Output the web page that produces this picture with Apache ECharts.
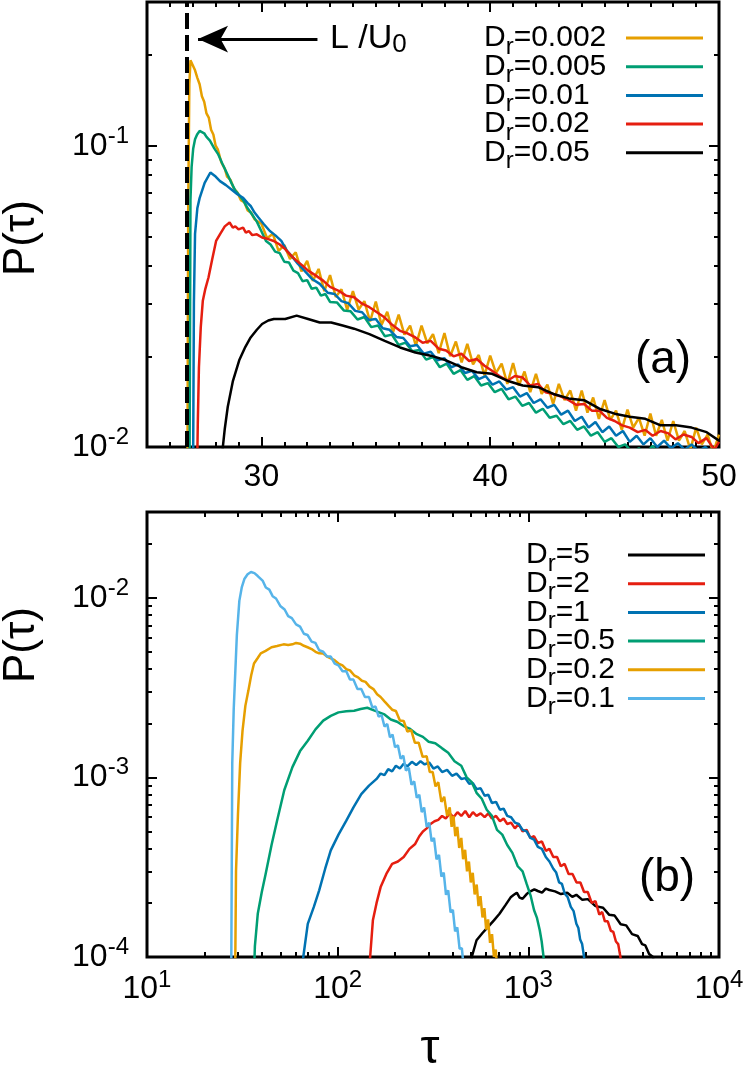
<!DOCTYPE html>
<html>
<head>
<meta charset="utf-8">
<script src="https://cdn.jsdelivr.net/npm/echarts@6/dist/echarts.min.js"></script>
<style>
  html, body { margin: 0; padding: 0; background: #fff; }
  #main { width: 746px; height: 1074px; }
</style>
</head>
<body>
<div id="main"></div>
<script>
var FONT = "'Liberation Sans', Arial, sans-serif";

// ---- panel (a): short times, tau on a linear axis ----
var tauA1 = [26.76, 26.8, 26.85, 26.9, 26.95, 27.0, 27.1, 27.2, 27.3, 27.4, 27.5, 27.6, 27.7, 27.8, 27.9, 28.0, 28.1, 28.25, 28.4, 28.5, 28.65, 28.8, 28.95, 29.1, 29.25, 29.4, 29.55, 29.7, 29.85,
  30.0, 30.25, 30.5, 30.75, 31.0, 31.25, 31.5, 31.75, 32.0, 32.25, 32.5, 32.75, 33.0, 33.25, 33.5, 33.75, 34.0, 34.25, 34.5, 34.75,
  35.0, 35.25, 35.5, 35.75, 36.0, 36.25, 36.5, 36.75, 37.0, 37.25, 37.5, 37.75, 38.0, 38.25, 38.5, 38.75, 39.0, 39.25, 39.5, 39.75,
  40.0, 40.25, 40.5, 40.75, 41.0, 41.25, 41.5, 41.75, 42.0, 42.25, 42.5, 42.75, 43.0, 43.25, 43.5, 43.75, 44.0, 44.25, 44.5, 44.75,
  45.0, 45.25, 45.5, 45.75, 46.0, 46.25, 46.5, 46.75, 47.0, 47.25, 47.5, 47.75, 48.0, 48.25, 48.5, 48.75, 49.0, 49.25, 49.5, 49.75, 50.0];
var pA1 = [0.005, 0.06, 0.16, 0.192, 0.19, 0.185, 0.178, 0.168, 0.160, 0.146, 0.140, 0.128, 0.124, 0.113, 0.109, 0.100, 0.097, 0.088, 0.084, 0.079, 0.077, 0.072, 0.070, 0.066, 0.065, 0.061, 0.060, 0.057, 0.056,
  0.0551, 0.0493, 0.0510, 0.0448, 0.0468, 0.0421, 0.0443, 0.0383, 0.0415, 0.0356, 0.0390, 0.0329, 0.0372, 0.0315, 0.0334, 0.0285, 0.0329, 0.0286, 0.0305, 0.0261,
  0.0304, 0.0254, 0.0281, 0.0240, 0.0275, 0.0236, 0.0253, 0.0217, 0.0253, 0.0221, 0.0237, 0.0205, 0.0239, 0.0200, 0.0224, 0.0191, 0.0220, 0.0188, 0.0202, 0.0173,
  0.0201, 0.0176, 0.0189, 0.0162, 0.0190, 0.0160, 0.0178, 0.0152, 0.0175, 0.0150, 0.0161, 0.0139, 0.0162, 0.0143, 0.0154, 0.0132, 0.0154, 0.0130, 0.0146, 0.0124,
  0.0143, 0.0123, 0.0132, 0.0114, 0.0133, 0.0116, 0.0125, 0.0109, 0.0129, 0.0109, 0.0123, 0.0105, 0.0122, 0.0105, 0.0113, 0.0098, 0.0116, 0.0102, 0.0110, 0.0096, 0.0110];

var tauA2 = [26.85, 26.9, 26.95, 27.02, 27.1, 27.19, 27.3, 27.4, 27.5, 27.6, 27.75, 27.94, 28.1, 28.3, 28.53, 28.7, 28.86, 29.0, 29.2, 29.4, 29.6, 29.8,
  30.0, 30.2, 30.4, 30.6, 30.8, 31.0, 31.2, 31.4, 31.6, 31.8, 32.0, 32.2, 32.4, 32.6, 32.8, 33.0, 33.3, 33.6, 33.9, 34.2, 34.5, 34.8,
  35.1, 35.4, 35.7, 36.0, 36.3, 36.6, 36.9, 37.2, 37.5, 37.8, 38.1, 38.4, 38.7, 39.0, 39.3, 39.6, 39.9, 40.2, 40.5, 40.8, 41.1, 41.4, 41.7,
  42.0, 42.3, 42.6, 42.9, 43.2, 43.5, 43.8, 44.1, 44.4, 44.7, 45.0, 45.3, 45.6, 45.9, 46.2, 46.5, 46.8, 47.1, 47.4, 47.7, 48.0, 48.3, 48.6, 49.0, 49.5, 50.0];
var pA2 = [0.005, 0.066, 0.085, 0.098, 0.105, 0.109, 0.112, 0.111, 0.110, 0.107, 0.104, 0.098, 0.094, 0.087, 0.080, 0.075, 0.071, 0.069, 0.066, 0.062, 0.059, 0.056,
  0.052, 0.0483, 0.0470, 0.0445, 0.0440, 0.0412, 0.0410, 0.0385, 0.0378, 0.0355, 0.0358, 0.0335, 0.0338, 0.0318, 0.0322, 0.0303, 0.0302, 0.0284, 0.0282, 0.0265, 0.0270, 0.0250,
  0.0253, 0.0233, 0.0236, 0.0218, 0.0222, 0.0208, 0.0210, 0.0195, 0.0199, 0.0184, 0.0189, 0.0175, 0.0180, 0.0167, 0.0172, 0.0160, 0.0163, 0.0152, 0.0156, 0.0144, 0.0147, 0.0137, 0.0140,
  0.0130, 0.0134, 0.0125, 0.0127, 0.0119, 0.0122, 0.0114, 0.0117, 0.0109, 0.0112, 0.0104, 0.0107, 0.0100, 0.0102, 0.0096, 0.0099, 0.0095, 0.0101, 0.0094, 0.0098, 0.0093, 0.0097, 0.0092, 0.0095, 0.0090, 0.0092];

var tauA3 = [27.0, 27.05, 27.1, 27.2, 27.3, 27.52, 27.77, 28.0, 28.19, 28.45, 28.69, 28.95, 29.2, 29.4, 29.53, 29.7, 29.87, 30.1, 30.37, 30.6,
  30.87, 31.1, 31.37, 31.6, 31.88, 32.2, 32.55, 32.9, 33.2, 33.5, 33.8, 34.1, 34.4, 34.7, 35.0, 35.3, 35.6, 35.9, 36.2, 36.5,
  36.8, 37.1, 37.4, 37.7, 38.0, 38.3, 38.6, 38.9, 39.2, 39.5, 39.8, 40.1, 40.4, 40.7, 41.0, 41.3, 41.6, 41.9, 42.2, 42.5,
  42.8, 43.1, 43.4, 43.7, 44.0, 44.3, 44.6, 44.9, 45.2, 45.5, 45.8, 46.1, 46.4, 46.7, 47.0, 47.3, 47.6, 47.9, 48.2, 48.5, 48.8, 49.1, 49.4, 49.7, 50.0];
var pA3 = [0.005, 0.030, 0.051, 0.062, 0.067, 0.0753, 0.0815, 0.079, 0.0763, 0.0740, 0.0716, 0.0690, 0.0672, 0.0645, 0.0631, 0.0600, 0.0578, 0.0550, 0.0521, 0.0505,
  0.0483, 0.0450, 0.0426, 0.0405, 0.0385, 0.0362, 0.0348, 0.0325, 0.0322, 0.0305, 0.0300, 0.0283, 0.0280, 0.0264, 0.0266, 0.0248, 0.0245, 0.0232, 0.0230, 0.0216,
  0.0218, 0.0204, 0.0207, 0.0194, 0.0197, 0.0184, 0.0188, 0.0176, 0.0179, 0.0168, 0.0172, 0.0161, 0.0165, 0.0155, 0.0158, 0.0147, 0.0151, 0.0140, 0.0144, 0.0135,
  0.0138, 0.0128, 0.0132, 0.0122, 0.0126, 0.0116, 0.0121, 0.0112, 0.0117, 0.0109, 0.0113, 0.0104, 0.0109, 0.0102, 0.0107, 0.0100, 0.0105, 0.0099, 0.0103, 0.0098, 0.0102, 0.0097, 0.0100, 0.0095, 0.0097];

var tauA4 = [27.15, 27.22, 27.27, 27.35, 27.44, 27.55, 27.69, 27.85, 28.02, 28.2, 28.4, 28.61, 28.75, 28.86, 29.0, 29.2, 29.32, 29.45, 29.6, 29.8,
  30.03, 30.3, 30.54, 30.8, 31.04, 31.3, 31.54, 31.8, 32.04, 32.35, 32.71, 33.0, 33.38, 33.7, 34.05, 34.4, 34.72, 35.05, 35.39, 35.7,
  36.06, 36.4, 36.73, 37.05, 37.4, 37.75, 38.07, 38.4, 38.74, 39.08, 39.41, 39.75, 40.08, 40.4, 40.75, 41.08, 41.42, 41.75, 42.09, 42.42,
  42.76, 43.1, 43.43, 43.77, 44.1, 44.44, 44.77, 45.1, 45.44, 45.77, 46.1, 46.45, 46.78, 47.1, 47.45, 47.79, 48.1, 48.45, 48.8, 49.1, 49.45, 49.6, 49.8, 50.0];
var pA4 = [0.005, 0.012, 0.0184, 0.025, 0.0306, 0.0335, 0.0366, 0.042, 0.0483, 0.051, 0.054, 0.0556, 0.0535, 0.054, 0.0528, 0.0535, 0.0515, 0.0521, 0.0505, 0.0508,
  0.0496, 0.049, 0.0483, 0.047, 0.0454, 0.0432, 0.0415, 0.040, 0.0385, 0.0372, 0.0356, 0.034, 0.033, 0.0318, 0.0314, 0.0299, 0.0291, 0.028, 0.0269, 0.0255,
  0.0243, 0.0238, 0.0231, 0.0222, 0.0225, 0.0212, 0.0209, 0.020, 0.0204, 0.0193, 0.0196, 0.0186, 0.0179, 0.0172, 0.0166, 0.0172, 0.017, 0.016, 0.0162, 0.0152,
  0.015, 0.0147, 0.0143, 0.0138, 0.0139, 0.0132, 0.0132, 0.0125, 0.0122, 0.0118, 0.0116, 0.0112, 0.0114, 0.0109, 0.0113, 0.0111, 0.0106, 0.011, 0.0108, 0.0103, 0.0107, 0.0103, 0.0098, 0.0104];

var tauA5 = [28.25, 28.4, 28.53, 28.75, 29.03, 29.3, 29.53, 29.8, 30.03, 30.3, 30.54, 31.04, 31.54, 32.04, 32.55, 33.05, 33.55, 34.05, 34.72, 35.39,
  36.06, 36.73, 37.4, 38.07, 38.74, 39.41, 40.08, 40.75, 41.42, 42.09, 42.76, 43.43, 44.1, 44.77, 45.44, 46.1, 46.78, 47.45, 48.12, 48.8, 49.46, 50.0];
var pA5 = [0.009, 0.0115, 0.0136, 0.0165, 0.0194, 0.0215, 0.0231, 0.0245, 0.0256, 0.0263, 0.0266, 0.0266, 0.0273, 0.0266, 0.0259, 0.0259, 0.0253, 0.0247, 0.0237, 0.0225,
  0.0214, 0.0206, 0.0201, 0.0194, 0.0184, 0.0177, 0.0175, 0.0166, 0.016, 0.0158, 0.015, 0.0145, 0.0143, 0.0134, 0.0129, 0.0126, 0.0124, 0.0118, 0.0118, 0.0116, 0.0112, 0.0105];

// ---- panel (b): log-log ----
var tauB5 = [488, 505, 535, 575, 615, 660, 706, 760, 811, 840, 870, 900, 933, 980, 1025, 1075, 1122, 1180, 1235, 1290,
  1380, 1483, 1600, 1700, 1786, 1920, 2051, 2250, 2466, 2650, 2836, 3050, 3260, 3500, 3745, 3950, 4110, 4300, 4508, 4600];
var pB5 = [0.00005, 0.0001, 0.000124, 0.000136, 0.000147, 0.00016, 0.000174, 0.000195, 0.000216, 0.000222, 0.000228, 0.000214, 0.000211, 0.000224, 0.000232, 0.000238, 0.000233, 0.000228, 0.00024, 0.000236,
  0.000232, 0.000224, 0.000228, 0.000216, 0.000222, 0.000208, 0.00021, 0.000192, 0.000188, 0.000172, 0.00017, 0.000152, 0.00015, 0.000134, 0.000131, 0.000118, 0.000116, 0.000104, 0.0001, 0.00008];

var tauB2 = [144, 148, 153, 160, 168, 180, 193, 207, 222, 238, 255, 268, 280, 293, 307, 322, 337, 353, 369, 387,
  405, 425, 445, 467, 490, 512, 535, 562, 590, 617, 644, 677, 710, 742, 775, 812, 850, 890, 933, 980,
  1025, 1072, 1122, 1178, 1235, 1290, 1352, 1415, 1480, 1550, 1626, 1705, 1790, 1875, 1960, 2050, 2150, 2250, 2356, 2440,
  2520, 2610, 2708, 2790, 2880, 2960, 3041, 3100];
var pB2 = [0.00005, 0.0001, 0.00016, 0.0002, 0.000245, 0.00029, 0.00033, 0.00034, 0.00036, 0.0004, 0.000426, 0.00047, 0.0005, 0.00052, 0.00055, 0.00057, 0.00058, 0.00061, 0.00059, 0.00063,
  0.0006, 0.00064, 0.00061, 0.00065, 0.0006, 0.00064, 0.00061, 0.00063, 0.0006, 0.00063, 0.00059, 0.00061, 0.00057, 0.00059, 0.00055, 0.00056, 0.00052, 0.00055, 0.0005, 0.00051,
  0.00046, 0.00047, 0.00043, 0.00044, 0.00039, 0.0004, 0.00036, 0.00036, 0.00032, 0.00033, 0.00029, 0.00029, 0.00026, 0.00026, 0.00023, 0.00023, 0.0002, 0.000205, 0.000172, 0.000178,
  0.000158, 0.000158, 0.00014, 0.000138, 0.000122, 0.000118, 0.0001, 0.00008];

var tauB1 = [63.5, 66, 69.7, 75, 80, 86, 92, 101, 111, 121, 133, 146, 160, 168, 176, 184, 193, 202, 212, 222,
  232, 245, 258, 272, 286, 302, 318, 335, 353, 375, 398, 420, 445, 467, 490, 512, 535, 562, 590, 617,
  644, 677, 710, 742, 775, 812, 850, 890, 933, 980, 1025, 1072, 1122, 1178, 1235, 1290, 1352, 1400, 1450, 1500,
  1553, 1610, 1670, 1728, 1786, 1830, 1870, 1915, 1960, 2000];
var pB1 = [0.00005, 0.0001, 0.000153, 0.00019, 0.000235, 0.00031, 0.000392, 0.00048, 0.000574, 0.00068, 0.000807, 0.0009, 0.00098, 0.00105, 0.00103, 0.00111, 0.00108, 0.00116, 0.00112, 0.00119,
  0.00115, 0.00122, 0.00117, 0.00123, 0.00118, 0.00121, 0.00112, 0.00115, 0.00107, 0.0011, 0.00102, 0.00105, 0.00098, 0.00099, 0.00092, 0.00093, 0.00086, 0.00087, 0.00079, 0.0008,
  0.00072, 0.00073, 0.00066, 0.00067, 0.00061, 0.0006, 0.00056, 0.00055, 0.00051, 0.0005, 0.00046, 0.00045, 0.00041, 0.0004, 0.00036, 0.00034, 0.00031, 0.000295, 0.00026, 0.000255,
  0.000225, 0.000215, 0.00019, 0.00018, 0.000153, 0.000145, 0.000125, 0.000118, 0.0001, 0.00008];

var tauB05 = [35.9, 36.8, 38.1, 40.0, 41.9, 45.0, 48.1, 52.5, 57.9, 63.5, 69.7, 76.5, 84, 92, 101, 111, 122, 132, 143, 155,
  165, 176, 190, 205, 222, 240, 260, 280, 300, 325, 353, 380, 410, 445, 475, 505, 535, 570, 605, 644,
  685, 730, 775, 825, 880, 933, 980, 1030, 1072, 1110, 1148, 1175, 1202, 1220];
var pB05 = [0.00005, 0.000115, 0.000174, 0.00023, 0.00029, 0.00042, 0.000574, 0.00085, 0.00114, 0.0014, 0.0016, 0.00185, 0.00207, 0.0022, 0.0023, 0.00233, 0.00235, 0.0024, 0.00244, 0.00236,
  0.0023, 0.00224, 0.0021, 0.00204, 0.00193, 0.00186, 0.00174, 0.00168, 0.00158, 0.00155, 0.00145, 0.00137, 0.00123, 0.00116, 0.001, 0.00094, 0.00082, 0.00076, 0.00066, 0.00061,
  0.00051, 0.00048, 0.00042, 0.00038, 0.00032, 0.0003, 0.000255, 0.000218, 0.000182, 0.000165, 0.000141, 0.000122, 0.0001, 0.00008];

var tauB02 = [28.9, 29.3, 30.0, 30.8, 31.7, 32.8, 34.0, 35.2, 36.4, 38.0, 39.5, 41.9, 45.0, 48.1, 52.0, 55.0, 57.9, 60.5, 63.5, 66.5,
  69.5, 73, 76.5, 80, 84, 88, 92, 96.3, 101, 106, 111, 116, 122, 128, 134, 140, 147, 154, 161, 168,
  176, 185, 193, 202, 212, 222, 232, 243, 254, 266, 279, 293, 304, 315, 326, 337, 350, 362, 375, 387,
  396, 405, 414, 424, 434, 445, 455, 466, 477, 488, 499, 511, 523, 536, 548, 561, 575, 588, 601, 615,
  630, 645, 660, 675, 690];
var pB02 = [0.00005, 0.0003, 0.000625, 0.0012, 0.00182, 0.0025, 0.00303, 0.0037, 0.0043, 0.0046, 0.0049, 0.00506, 0.0053, 0.00539, 0.0055, 0.00545, 0.0055, 0.0056, 0.00555, 0.0054,
  0.0053, 0.00518, 0.005, 0.0049, 0.00489, 0.0047, 0.0046, 0.00449, 0.0043, 0.0042, 0.004, 0.00394, 0.0037, 0.0036, 0.00345, 0.0034, 0.0032, 0.0031, 0.0029, 0.0028,
  0.00265, 0.0025, 0.00238, 0.00234, 0.00207, 0.00206, 0.0018, 0.00183, 0.00156, 0.00156, 0.0013, 0.00131, 0.00107, 0.00107, 0.00089, 0.00094, 0.00073, 0.00078, 0.00061, 0.00068,
  0.00053, 0.00061, 0.00047, 0.00053, 0.000405, 0.00046, 0.00035, 0.000395, 0.0003, 0.00034, 0.00026, 0.000294, 0.000223, 0.000253, 0.000192, 0.000218, 0.000166, 0.000187, 0.000142, 0.000162,
  0.00012, 0.000134, 0.0001, 0.00011, 0.00008];

var tauB01 = [27.6, 28.0, 28.5, 28.9, 29.6, 30.5, 31.4, 32.4, 33.7, 35.1, 36.6, 38.1, 40.5, 42.0, 43.8, 45.6, 47.5, 50.0, 52.7, 55.0,
  57.5, 60.5, 63.5, 66.5, 69.5, 73.0, 76.4, 80.0, 84.0, 88.0, 92.0, 96.5, 101, 106, 111, 116, 121, 127, 133, 139,
  146, 152, 158, 164, 170, 176, 182, 188, 194, 200, 207, 214, 221, 228, 236, 244, 252, 260, 268, 276,
  284, 293, 302, 311, 320, 330, 340, 350, 360, 370, 380, 391, 402, 413, 424, 436, 448, 458, 470];
var pB01 = [0.00005, 0.0012, 0.0024, 0.0034, 0.0062, 0.0096, 0.0114, 0.0127, 0.0135, 0.0139, 0.0137, 0.0132, 0.0124, 0.0114, 0.0111, 0.0102, 0.0099, 0.009, 0.0086, 0.0079,
  0.0077, 0.0071, 0.0069, 0.0063, 0.0062, 0.0057, 0.0056, 0.0051, 0.005, 0.0047, 0.0047, 0.0043, 0.0042, 0.0039, 0.0039, 0.0035, 0.0035, 0.0031, 0.0031, 0.0028,
  0.0028, 0.00245, 0.00248, 0.00218, 0.00222, 0.00192, 0.00198, 0.00167, 0.00173, 0.00147, 0.00151, 0.00127, 0.00132, 0.00109, 0.00113, 0.00091, 0.00095, 0.00077, 0.0008, 0.00064,
  0.00068, 0.00053, 0.00056, 0.00044, 0.00046, 0.00035, 0.00037, 0.00028, 0.000295, 0.000222, 0.000235, 0.000177, 0.000183, 0.000139, 0.000146, 0.000111, 0.000112, 0.000088, 0.00008];

// annotations of panel (a)
var tauBallistic = 26.75;            // L/U0
var arrowP = 0.226, arrowFrom = 32.45, arrowTo = 27.23;

// tick positions
var tauMajorA = [30, 40];
var tauLabelA = [30, 40, 50];
var tauMinorA = [26, 27, 28, 29, 31, 32, 33, 34, 35, 36, 37, 38, 39, 41, 42, 43, 44, 45, 46, 47, 48, 49];
var pMinorA = [0.02, 0.03, 0.04, 0.05, 0.06, 0.07, 0.08, 0.09, 0.2];
var tauMinorB = [20, 30, 40, 50, 60, 70, 80, 90, 200, 300, 400, 500, 600, 700, 800, 900, 2000, 3000, 4000, 5000, 6000, 7000, 8000, 9000];
var pMinorB = [0.0002, 0.0003, 0.0004, 0.0005, 0.0006, 0.0007, 0.0008, 0.0009, 0.002, 0.003, 0.004, 0.005, 0.006, 0.007, 0.008, 0.009, 0.02, 0.03];

var namesA = ['Dr=0.002', 'Dr=0.005', 'Dr=0.01', 'Dr=0.02', 'Dr=0.05'];
var namesB = ['Dr=5', 'Dr=2', 'Dr=1', 'Dr=0.5', 'Dr=0.2', 'Dr=0.1'];

var ORANGE = '#E69F00', GREEN = '#009E73', BLUE = '#0072B2', RED = '#E51E10', BLACK = '#000000', SKY = '#56B4E9';

function powLabel(v) {
  var e = Math.log10(v), r = Math.round(e);
  if (Math.abs(e - r) > 1e-6) return '';
  return '{b|10}{s|' + r + '}';
}
var powRich = {
  b: { fontSize: 32, lineHeight: 32, padding: [11, 0, 0, 0], fontFamily: FONT, color: '#000' },
  s: { fontSize: 24, lineHeight: 24, verticalAlign: 'top', fontFamily: FONT, color: '#000' }
};

function axis(gridIndex, type, min, max, position, len, ticks) {
  var a = {
    gridIndex: gridIndex, type: type, min: min, max: max, position: position,
    axisLine: { show: false }, splitLine: { show: false },
    axisLabel: { show: false },
    axisTick: { show: true, inside: true, length: len, lineStyle: { color: '#000', width: 2 } }
  };
  if (type === 'log') a.logBase = 10;
  if (ticks) a.axisTick.customValues = ticks;
  return a;
}
// minor ticks of a log axis, laid on a plain axis spanning the same decades
function logMinor(gridIndex, min, max, position, vals) {
  return axis(gridIndex, 'value', Math.log10(min), Math.log10(max), position, 5, vals.map(Math.log10));
}

// panel (a) axes
var xa = axis(0, 'value', 25, 50, 'bottom', 10, tauMajorA);
xa.axisLabel = { show: true, customValues: tauLabelA, fontSize: 32, lineHeight: 32, color: '#000', fontFamily: FONT, margin: 14 };
var ya = axis(0, 'log', 0.01, 0.3, 'left', 10);
ya.axisLabel = { show: true, formatter: powLabel, rich: powRich, margin: 18, padding: [0, 0, 11, 0] };

// panel (b) axes
var xb = axis(1, 'log', 10, 10000, 'bottom', 10);
xb.axisLabel = { show: true, formatter: powLabel, rich: powRich, margin: 11, padding: [0, 0, 11, 0] };
var yb = axis(1, 'log', 0.0001, 0.03, 'left', 10);
yb.axisLabel = { show: true, formatter: powLabel, rich: powRich, margin: 18, padding: [0, 0, 11, 0] };

var xAxes = [
  xa, axis(0, 'value', 25, 50, 'bottom', 5, tauMinorA), axis(0, 'value', 25, 50, 'top', 10, tauMajorA), axis(0, 'value', 25, 50, 'top', 5, tauMinorA),
  xb, logMinor(1, 10, 10000, 'bottom', tauMinorB), axis(1, 'log', 10, 10000, 'top', 10), logMinor(1, 10, 10000, 'top', tauMinorB)
];
var yAxes = [
  ya, logMinor(0, 0.01, 0.3, 'left', pMinorA), axis(0, 'log', 0.01, 0.3, 'right', 10), logMinor(0, 0.01, 0.3, 'right', pMinorA),
  yb, logMinor(1, 0.0001, 0.03, 'left', pMinorB), axis(1, 'log', 0.0001, 0.03, 'right', 10), logMinor(1, 0.0001, 0.03, 'right', pMinorB)
];

function curve(name, tau, p, color, panel) {
  return {
    name: name, type: 'line', xAxisIndex: panel * 4, yAxisIndex: panel * 4,
    data: tau.map(function (t, i) { return [t, p[i]]; }),
    symbol: 'none', showSymbol: false, color: color,
    lineStyle: { color: color, width: 2.5 },
    clip: true, silent: true, animation: false
  };
}

var seriesA = [
  curve(namesA[0], tauA1, pA1, ORANGE, 0),
  curve(namesA[1], tauA2, pA2, GREEN, 0),
  curve(namesA[2], tauA3, pA3, BLUE, 0),
  curve(namesA[3], tauA4, pA4, RED, 0),
  curve(namesA[4], tauA5, pA5, BLACK, 0)
];
seriesA[4].markLine = {
  silent: true, animation: false, symbol: 'none',
  label: { show: false },
  lineStyle: { color: '#000', width: 3, type: 'solid' },
  data: [
    { xAxis: tauBallistic, lineStyle: { color: '#000', width: 4, type: [16, 6] } },
    [
      { coord: [arrowFrom, arrowP], symbol: 'none', lineStyle: { color: '#000', width: 3, type: 'solid' } },
      { coord: [arrowTo, arrowP], symbol: 'arrow', symbolSize: [20, 30], lineStyle: { color: '#000', width: 3, type: 'solid' } }
    ]
  ]
};

var seriesB = [
  curve(namesB[0], tauB5, pB5, BLACK, 1),
  curve(namesB[1], tauB2, pB2, RED, 1),
  curve(namesB[2], tauB1, pB1, BLUE, 1),
  curve(namesB[3], tauB05, pB05, GREEN, 1),
  curve(namesB[4], tauB02, pB02, ORANGE, 1),
  curve(namesB[5], tauB01, pB01, SKY, 1)
];

function legend(names, left, top, textWidth) {
  return {
    data: names, orient: 'vertical', left: left, top: top, padding: 0,
    align: 'right', icon: 'rect', itemWidth: 77, itemHeight: 3, itemGap: -7.3,
    selectedMode: false, itemStyle: { borderWidth: 0 },
    formatter: function (n) { return '{m|D}{s|r}{m|' + n.slice(2) + '}'; },
    textStyle: {
      width: textWidth, color: '#000', fontFamily: FONT, fontSize: 30,
      rich: {
        m: { fontSize: 30, lineHeight: 30, verticalAlign: 'middle', align: 'left', fontFamily: FONT, color: '#000' },
        s: { fontSize: 24, lineHeight: 24, padding: [12, 0, 0, 0], verticalAlign: 'top', align: 'left', fontFamily: FONT, color: '#000' }
      }
    }
  };
}

function label(x, y, text, size, rot) {
  return {
    type: 'text', x: x, y: y, rotation: rot || 0, silent: true,
    style: { text: text, fontSize: size, fontFamily: FONT, fill: '#000', align: 'center', verticalAlign: 'middle' }
  };
}

var chart = echarts.init(document.getElementById('main'));
chart.setOption({
  animation: false,
  backgroundColor: '#fff',
  textStyle: { fontFamily: FONT },
  grid: [
    { left: 147, top: 2, width: 572, height: 445, show: true, borderColor: '#000', borderWidth: 3, backgroundColor: 'transparent', outerBoundsMode: 'none' },
    { left: 147, top: 512, width: 572, height: 445, show: true, borderColor: '#000', borderWidth: 3, backgroundColor: 'transparent', outerBoundsMode: 'none' }
  ],
  xAxis: xAxes,
  yAxis: yAxes,
  legend: [legend(namesA, 484, 23, 137), legend(namesB, 526, 540, 97)],
  series: seriesA.concat(seriesB),
  graphic: {
    elements: [
      label(22, 238, 'P(τ)', 44, Math.PI / 2),
      label(22, 645, 'P(τ)', 44, Math.PI / 2),
      label(430, 1050, 'τ', 48),
      label(663, 360, '(a)', 46),
      label(667, 878, '(b)', 46),
      {
        type: 'text', x: 330, y: 39, silent: true,
        style: {
          text: '{m|L /U}{s|0}', align: 'left', verticalAlign: 'middle', fill: '#000',
          rich: {
            m: { fontSize: 34, lineHeight: 34, fontFamily: FONT, fill: '#000' },
            s: { fontSize: 26, lineHeight: 26, padding: [10, 0, 0, 0], verticalAlign: 'top', fontFamily: FONT, fill: '#000' }
          }
        }
      }
    ]
  }
});
</script>
</body>
</html>
